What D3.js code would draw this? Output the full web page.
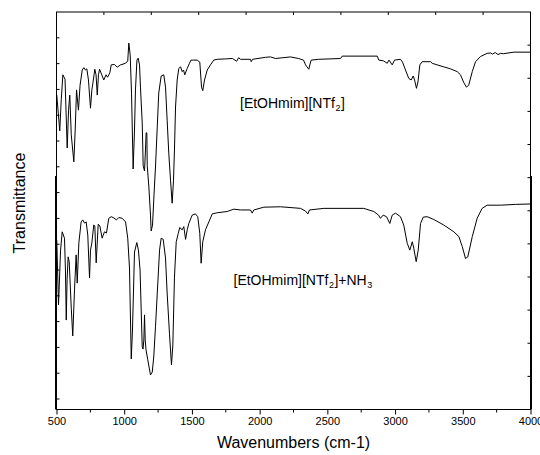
<!DOCTYPE html>
<html>
<head>
<meta charset="utf-8">
<script src="https://cdn.jsdelivr.net/npm/d3@7"></script>
<style>
  body { margin: 0; background: #fff; }
  svg { font-family: Arial, "Liberation Sans", sans-serif; }
</style>
</head>
<body>
<svg id="chart" width="540" height="455"></svg>
<script>
// FTIR spectra: wavenumber (cm-1) and transmittance (a.u.)
var pureWn = [502, 524, 535, 547, 563, 579, 589, 598, 609, 628, 638, 648, 662, 674, 690, 702, 714, 724, 736, 751,
  761, 768, 783, 792, 801, 810, 818, 832, 849, 866, 877, 894, 904, 928, 948, 973, 1010, 1026, 1034, 1044,
  1054, 1066, 1076, 1083, 1094, 1103, 1113, 1120, 1133, 1140, 1150, 1157, 1162, 1167, 1170, 1182, 1194, 1199, 1209, 1220,
  1231, 1244, 1255, 1273, 1292, 1305, 1317, 1329, 1342, 1354, 1364, 1371, 1379, 1391, 1403, 1416, 1428, 1438, 1447, 1465,
  1482, 1493, 1509, 1539, 1558, 1571, 1580, 1593, 1613, 1637, 1661, 1687, 1748, 1800, 1830, 1845, 1859, 1932, 1938, 1947,
  2043, 2080, 2117, 2228, 2287, 2324, 2339, 2363, 2372, 2381, 2435, 2597, 2610, 2868, 2880, 2915, 2942, 2955, 2979, 2996,
  3040, 3055, 3077, 3101, 3119, 3134, 3144, 3158, 3169, 3183, 3200, 3262, 3274, 3311, 3360, 3409, 3459, 3483, 3508, 3527,
  3544, 3570, 3594, 3631, 3680, 3705, 3719, 3740, 3760, 3779, 3800, 3877, 3998];
var pureT = [79.1, 70.1, 77.9, 84.2, 83.1, 65.8, 75.3, 79.1, 69.1, 62.3, 70.3, 80.4, 75.3, 81.6, 85.4, 86.0, 85.4, 85.7, 82.9, 75.8,
  80.4, 81.9, 85.6, 84.2, 79.1, 84.2, 85.6, 84.4, 82.9, 84.2, 83.6, 84.7, 86.7, 86.8, 86.1, 86.7, 87.1, 87.7, 92.2, 89.2,
  79.6, 60.5, 70.3, 80.4, 87.9, 88.4, 86.7, 81.1, 72.1, 61.3, 60.0, 65.3, 69.6, 69.6, 61.3, 56.0, 48.9, 44.9, 46.4, 54.0,
  61.0, 71.1, 79.6, 83.9, 84.2, 81.1, 72.8, 64.5, 57.7, 51.9, 57.7, 65.3, 76.1, 82.9, 85.8, 86.2, 85.0, 85.4, 84.2, 85.8,
  87.1, 87.9, 87.9, 87.9, 87.4, 81.1, 80.2, 82.9, 85.4, 86.7, 87.9, 88.1, 88.2, 88.3, 87.6, 88.5, 88.1, 88.1, 87.5, 88.1,
  88.6, 88.7, 88.3, 88.7, 88.3, 87.9, 86.7, 85.6, 86.9, 87.9, 88.1, 88.3, 88.9, 88.9, 87.9, 87.7, 87.1, 87.9, 86.7, 87.9,
  88.1, 87.4, 85.4, 83.3, 82.9, 83.9, 82.9, 80.8, 82.4, 86.7, 87.5, 87.5, 87.1, 86.7, 86.2, 85.7, 85.0, 84.2, 82.2, 81.1,
  81.6, 85.0, 87.5, 88.8, 89.6, 89.7, 89.4, 89.8, 89.3, 89.6, 89.5, 89.9, 89.9];

var nh3Wn = [502, 515, 530, 542, 559, 566, 572, 578, 586, 594, 609, 620, 633, 645, 653, 665, 682, 694, 707, 719,
  731, 744, 751, 761, 775, 783, 793, 808, 820, 837, 854, 869, 886, 904, 923, 943, 960, 985, 1010, 1026,
  1039, 1052, 1061, 1076, 1093, 1105, 1117, 1133, 1139, 1145, 1150, 1155, 1161, 1174, 1194, 1207, 1218, 1231, 1248, 1261,
  1273, 1288, 1305, 1317, 1334, 1349, 1359, 1371, 1384, 1399, 1410, 1428, 1440, 1453, 1465, 1477, 1502, 1526, 1543, 1558,
  1568, 1580, 1600, 1625, 1650, 1687, 1760, 1809, 1859, 1932, 1945, 1957, 2031, 2154, 2302, 2339, 2356, 2368, 2474, 2769,
  2843, 2878, 2892, 2912, 2937, 2961, 2979, 3003, 3040, 3064, 3090, 3109, 3127, 3138, 3156, 3171, 3188, 3208, 3237, 3286,
  3360, 3434, 3471, 3496, 3520, 3537, 3570, 3606, 3643, 3680, 3779, 3889, 3998];
var nh3T = [42.6, 26.3, 40.1, 44.7, 43.1, 35.1, 22.5, 32.6, 38.4, 37.1, 25.5, 18.5, 30.1, 38.9, 31.8, 41.9, 47.2, 47.7, 46.9, 47.2,
  43.9, 33.1, 40.1, 41.9, 46.4, 46.2, 36.9, 46.6, 46.2, 43.1, 44.7, 44.4, 48.1, 48.5, 48.2, 47.7, 48.3, 48.1, 47.2, 43.1,
  35.6, 12.7, 20.0, 39.6, 42.0, 40.1, 35.1, 15.8, 15.2, 17.5, 23.8, 17.5, 15.0, 12.5, 8.7, 9.4, 13.2, 20.8, 31.8, 40.1,
  43.1, 42.8, 38.1, 29.3, 19.2, 11.2, 16.2, 33.3, 42.2, 44.3, 45.8, 45.2, 46.0, 42.8, 45.2, 46.8, 48.9, 49.2, 48.5, 44.3,
  36.8, 42.2, 45.2, 47.2, 49.2, 49.5, 49.8, 50.4, 50.2, 50.2, 49.4, 50.2, 50.9, 51.0, 50.6, 49.9, 49.2, 50.2, 50.6, 50.6,
  49.8, 48.9, 48.1, 48.9, 48.5, 46.8, 48.9, 49.4, 48.5, 46.4, 41.8, 40.1, 42.2, 40.6, 37.2, 40.1, 46.8, 48.4, 48.5, 47.8,
  46.4, 44.7, 43.5, 41.0, 38.0, 38.4, 43.5, 48.1, 50.6, 51.4, 51.4, 51.6, 51.7];

var xTicks = [500, 1000, 1500, 2000, 2500, 3000, 3500, 4000];
var labelPure = ['[EtOHmim][NTf', '2', ']'];
var labelNh3 = ['[EtOHmim][NTf', '2', ']+NH', '3'];

var svg = d3.select('#chart');
var m = { left: 56.5, right: 530.5, top: 12, bottom: 409.5 };

var x = d3.scaleLinear().domain([500, 4000]).range([m.left, m.right]);
var y = d3.scaleLinear().domain([0, 100]).range([m.bottom, m.top]);

// Frame
svg.append('rect')
  .attr('x', m.left).attr('y', m.top)
  .attr('width', m.right - m.left).attr('height', m.bottom - m.top)
  .attr('fill', 'none').attr('stroke', '#000').attr('stroke-width', 1);

// lower panel frame is drawn a bit heavier in the original
svg.append('line').attr('x1', m.left - 1).attr('x2', m.left - 1)
  .attr('y1', 176).attr('y2', m.bottom).attr('stroke', '#000');
svg.append('line').attr('x1', m.right + 1).attr('x2', m.right + 1)
  .attr('y1', 176).attr('y2', m.bottom).attr('stroke', '#000');

// Bottom axis
var gx = svg.append('g').attr('transform', 'translate(0,' + m.bottom + ')');
gx.call(d3.axisBottom(x).tickValues(xTicks).tickSize(5).tickPadding(3)
    .tickFormat(d3.format('d')))
  .call(function(g) { g.select('.domain').remove(); })
  .selectAll('text').attr('font-size', 11).attr('font-family', 'Arial, "Liberation Sans", sans-serif');
gx.selectAll('.minor')
  .data(d3.range(750, 4000, 500))
  .enter().append('line')
    .attr('class', 'minor')
    .attr('x1', function(d) { return x(d); }).attr('x2', function(d) { return x(d); })
    .attr('y1', 0).attr('y2', 3).attr('stroke', '#000');

// Top axis ticks (inward)
svg.append('g').selectAll('line')
  .data(d3.range(850, 4000, 350))
  .enter().append('line')
    .attr('x1', function(d) { return x(d); }).attr('x2', function(d) { return x(d); })
    .attr('y1', m.top).attr('y2', m.top + 3).attr('stroke', '#000');

// Left axis ticks (inward)
svg.append('g').selectAll('line')
  .data(d3.range(93.5, 0, -6.49))
  .enter().append('line')
    .attr('x1', m.left).attr('x2', m.left + 3)
    .attr('y1', function(d) { return y(d); }).attr('y2', function(d) { return y(d); })
    .attr('stroke', '#000');

// Right axis ticks (inward)
svg.append('g').selectAll('line')
  .data(d3.range(1, 12).map(function(i) { return i * 100 / 12; }))
  .enter().append('line')
    .attr('x1', m.right - 3).attr('x2', m.right)
    .attr('y1', function(d) { return y(d); }).attr('y2', function(d) { return y(d); })
    .attr('stroke', '#000');

// Spectra
var line = d3.line()
  .x(function(d) { return x(d[0]); })
  .y(function(d) { return y(d[1]); });

var series = [d3.zip(pureWn, pureT), d3.zip(nh3Wn, nh3T)];
svg.append('g').selectAll('path')
  .data(series)
  .enter().append('path')
    .attr('d', line)
    .attr('fill', 'none')
    .attr('stroke', '#000')
    .attr('stroke-width', 1)
    .attr('stroke-linejoin', 'round');

// Curve labels with subscripts
function addLabel(parts, px, py) {
  var t = svg.append('text').attr('x', px).attr('y', py).attr('font-size', 14);
  parts.forEach(function(p, i) {
    var sub = i % 2 == 1;
    t.append('tspan')
      .attr('font-size', sub ? 9 : 14)
      .attr('dx', sub ? 0.5 : (i > 0 ? 0.5 : 0))
      .attr('dy', sub ? 3 : (i > 0 ? -3 : 0))
      .text(p);
  });
}
addLabel(labelPure, 240, 108);
addLabel(labelNh3, 233.5, 285);

// Axis titles
svg.append('text')
  .attr('x', (m.left + m.right) / 2).attr('y', 448)
  .attr('text-anchor', 'middle').attr('font-size', 16)
  .text('Wavenumbers (cm-1)');

svg.append('text')
  .attr('transform', 'translate(25,203) rotate(-90)')
  .attr('text-anchor', 'middle').attr('font-size', 16)
  .text('Transmittance');
</script>
</body>
</html>
